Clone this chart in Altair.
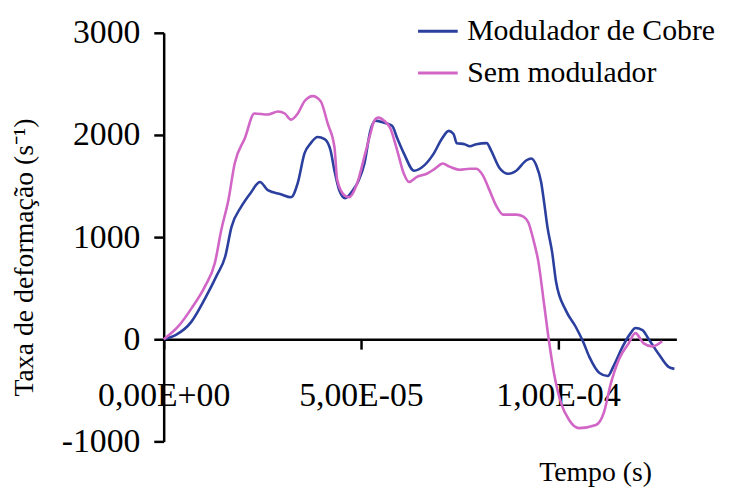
import altair as alt
import pandas as pd

series_names = ["Modulador de Cobre", "Sem modulador"]
series_colors = ["#2b3f9e", "#d266c6"]

# time in microseconds, strain rate in 1/s
cobre_time_us = [0, 3, 7, 10.5, 13.4, 15.6, 17.2, 19.7, 22, 24.4, 26.4, 29.7, 32.3, 34, 35.7,
                 37.3, 39, 40.8, 42.3, 43.3, 44.5, 46, 48, 49.5, 50.9, 52.4, 53.7, 55.9, 57.9,
                 59.2, 60.9, 63.5, 66, 68.5, 70.5, 72.3, 73.5, 74.3, 76.3, 77.6, 79.3, 81.9, 83,
                 85.1, 87.4, 89.4, 91.9, 93.2, 94.5, 95.7, 96.5, 97.3, 98.5, 99.5, 102, 104.5,
                 106.3, 107.9, 110.5, 112.6, 114.1, 116.4, 118.4, 119.6, 121.4, 123, 125.6, 128, 129.5]
cobre_rate = [0, 40, 170, 400, 620, 810, 1100, 1300, 1430, 1540, 1460, 1420, 1390, 1530, 1820,
              1920, 1980, 1960, 1850, 1650, 1460, 1380, 1460, 1560, 1720, 2040, 2140, 2120, 2090,
              1970, 1820, 1650, 1700, 1820, 1960, 2040, 2010, 1920, 1910, 1890, 1910, 1920, 1850,
              1680, 1620, 1650, 1750, 1770, 1700, 1540, 1330, 1100, 850, 560, 280, 120,
              -20, -170, -330, -360, -260, -70, 60, 110, 90, 0, -150, -270, -290]

sem_time_us = [0, 3.8, 7, 10.5, 13, 14.6, 16.4, 18, 20.6, 23, 26.4, 29, 30.7, 32.3, 34, 35.7,
               37.8, 39.8, 41.6, 43.3, 44, 45.8, 47, 49, 51.1, 52.4, 53.4, 54.4, 55.9, 57.4,
               59.2, 60.9, 62.2, 64.2, 66.7, 68.8, 70.8, 72.5, 75, 77.6, 79.3, 81, 82.6, 84.4,
               86.1, 89.4, 91.2, 92.5, 93.7, 95, 96.5, 97.7, 99, 100.8, 102.8, 105.3, 109.6,
               111.6, 113.4, 115.4, 117.9, 119.6, 121.7, 123.9, 126.4]
sem_rate = [0, 130, 300, 520, 750, 1070, 1360, 1720, 1970, 2210, 2200, 2230, 2210, 2150, 2210, 2330,
            2380, 2330, 2110, 1880, 1560, 1410, 1390, 1520, 1820, 2010, 2140, 2170, 2140, 2070,
            1850, 1620, 1540, 1590, 1620, 1670, 1720, 1690, 1660, 1670, 1670, 1600, 1460, 1300,
            1220, 1220, 1200, 1140, 980, 760, 330, -20, -340, -630, -790, -870, -840,
            -720, -430, -200, -40, 60, -40, -70, -20]

x_tick_values_us = [0, 50, 100]
x_tick_labels = ["0,00E+00", "5,00E-05", "1,00E-04"]
y_tick_values = [-1000, 0, 1000, 2000, 3000]

rows = []
for i, (t, v) in enumerate(zip(cobre_time_us, cobre_rate)):
    rows.append({"serie": series_names[0], "tempo": t, "taxa": v, "ordem": i})
for i, (t, v) in enumerate(zip(sem_time_us, sem_rate)):
    rows.append({"serie": series_names[1], "tempo": t, "taxa": v, "ordem": i})
df = pd.DataFrame(rows)

x_label_expr = " : ".join(
    f"datum.value == {v} ? '{lab}'" for v, lab in zip(x_tick_values_us, x_tick_labels)
) + " : ''"

FONT = "Liberation Serif"

chart = alt.Chart(df).mark_line(strokeWidth=2.6, interpolate="monotone").encode(
    x=alt.X(
        "tempo:Q",
        scale=alt.Scale(domain=[0, 130], nice=False, zero=False),
        axis=alt.Axis(
            values=x_tick_values_us,
            labelExpr=x_label_expr,
            title="Tempo (s)",
            offset=-103,
            labelFont=FONT, labelFontSize=34, labelColor="black",
            labelPadding=30, labelFlush=False, labelOverlap=False,
            tickSize=10, tickWidth=2.5, tickColor="black",
            domainWidth=2.5, domainColor="black",
            titleFont=FONT, titleFontSize=28, titleFontWeight="normal", titleColor="black",
            titleX=435, titleY=142, titleAlign="center", titleBaseline="alphabetic",
            grid=False,
        ),
    ),
    y=alt.Y(
        "taxa:Q",
        scale=alt.Scale(domain=[-1000, 3000], nice=False),
        axis=alt.Axis(
            values=y_tick_values,
            labelExpr="datum.value + ''",
            title="Taxa de deformação (s⁻¹)",
            labelFont=FONT, labelFontSize=34, labelColor="black",
            labelPadding=14,
            tickSize=10, tickWidth=2.5, tickColor="black",
            domainWidth=2.5, domainColor="black",
            titleFont=FONT, titleFontSize=28, titleFontWeight="normal", titleColor="black",
            titleAngle=270, titleX=-132, titleY=226, titleAlign="center",
            titleBaseline="alphabetic",
            grid=False,
        ),
    ),
    color=alt.Color(
        "serie:N",
        scale=alt.Scale(domain=series_names, range=series_colors),
        legend=alt.Legend(
            title=None, orient="none", legendX=255, legendY=-23,
            symbolType="stroke", symbolSize=1600, symbolStrokeWidth=3,
            labelFont=FONT, labelFontSize=30, labelColor="black", labelOffset=8,
            labelLimit=0, rowPadding=5, padding=0,
        ),
    ),
    order="ordem:Q",
).properties(
    width=517,
    height=412,
    autosize=alt.AutoSizeParams(type="none"),
    padding={"left": 157, "top": 23, "right": 46, "bottom": 47},
    background="white",
).configure_view(stroke=None)

chart.save("out.html", embed_options={"renderer": "svg", "actions": False})
